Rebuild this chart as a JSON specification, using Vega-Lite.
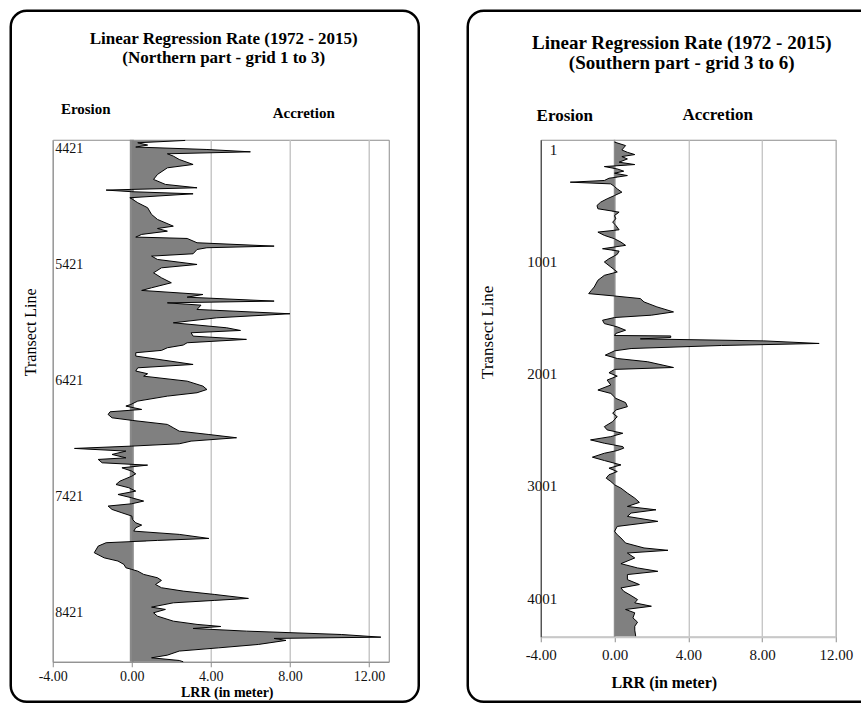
{
  "$schema": "https://vega.github.io/schema/vega-lite/v6.json",
  "background": "white",
  "padding": {"left": 8.75, "top": 8.75, "right": 0, "bottom": 0},
  "spacing": 152,
  "bounds": "flush",
  "config": {
    "view": {"stroke": "#8c8c8c", "strokeWidth": 1},
    "axis": {"labelFont": "Liberation Serif", "titleFont": "Liberation Serif", "labelColor": "#111111", "titleColor": "#000000", "labelFlush": false, "labelOverlap": false, "labelBound": false},
    "text": {"font": "Liberation Serif", "color": "#000000"}
  },
  "datasets": {
    "north": [
      {"transect": 4411, "lrr": 2.7}, {"transect": 4431, "lrr": 0.3}, {"transect": 4451, "lrr": 0.8}, {"transect": 4468, "lrr": 0.2},
      {"transect": 4489, "lrr": 3.8}, {"transect": 4509, "lrr": 6.0}, {"transect": 4526, "lrr": 1.8}, {"transect": 4546, "lrr": 2.1},
      {"transect": 4575, "lrr": 2.4}, {"transect": 4618, "lrr": 3.1}, {"transect": 4647, "lrr": 1.8}, {"transect": 4704, "lrr": 1.3},
      {"transect": 4747, "lrr": 1.1}, {"transect": 4790, "lrr": 1.7}, {"transect": 4819, "lrr": 3.3}, {"transect": 4833, "lrr": 0},
      {"transect": 4839, "lrr": -1.3}, {"transect": 4853, "lrr": 0}, {"transect": 4871, "lrr": 3.1}, {"transect": 4905, "lrr": -0.1},
      {"transect": 4920, "lrr": 0.05}, {"transect": 4948, "lrr": 0.3}, {"transect": 4991, "lrr": 0.8}, {"transect": 5049, "lrr": 1.0},
      {"transect": 5092, "lrr": 1.3}, {"transect": 5150, "lrr": 2.1}, {"transect": 5170, "lrr": 1.3}, {"transect": 5193, "lrr": 1.8},
      {"transect": 5221, "lrr": 0.5}, {"transect": 5244, "lrr": 0.2}, {"transect": 5256, "lrr": 2.8}, {"transect": 5293, "lrr": 3.3},
      {"transect": 5322, "lrr": 7.2}, {"transect": 5336, "lrr": 3.8}, {"transect": 5351, "lrr": 3.3}, {"transect": 5388, "lrr": 3.1},
      {"transect": 5408, "lrr": 1.0}, {"transect": 5437, "lrr": 1.3}, {"transect": 5480, "lrr": 3.3}, {"transect": 5509, "lrr": 1.5},
      {"transect": 5552, "lrr": 1.1}, {"transect": 5595, "lrr": 1.5}, {"transect": 5638, "lrr": 2.0}, {"transect": 5681, "lrr": 1.0},
      {"transect": 5704, "lrr": 0.5}, {"transect": 5739, "lrr": 3.6}, {"transect": 5762, "lrr": 2.8}, {"transect": 5796, "lrr": 7.2},
      {"transect": 5811, "lrr": 1.8}, {"transect": 5831, "lrr": 3.5}, {"transect": 5868, "lrr": 3.3}, {"transect": 5905, "lrr": 8.0},
      {"transect": 5940, "lrr": 4.3}, {"transect": 5983, "lrr": 2.1}, {"transect": 6026, "lrr": 4.8}, {"transect": 6049, "lrr": 5.5},
      {"transect": 6069, "lrr": 3.0}, {"transect": 6098, "lrr": 3.1}, {"transect": 6126, "lrr": 5.8}, {"transect": 6155, "lrr": 2.8},
      {"transect": 6175, "lrr": 2.6}, {"transect": 6198, "lrr": 1.8}, {"transect": 6221, "lrr": 1.5}, {"transect": 6241, "lrr": 0.2},
      {"transect": 6270, "lrr": 0.2}, {"transect": 6342, "lrr": 3.1}, {"transect": 6371, "lrr": 0.3}, {"transect": 6399, "lrr": 0.2},
      {"transect": 6422, "lrr": 0.8}, {"transect": 6443, "lrr": 0.6}, {"transect": 6486, "lrr": 2.8}, {"transect": 6529, "lrr": 3.6},
      {"transect": 6558, "lrr": 3.8}, {"transect": 6586, "lrr": 3.3}, {"transect": 6615, "lrr": 1.8}, {"transect": 6658, "lrr": 0.3},
      {"transect": 6687, "lrr": -0.05}, {"transect": 6701, "lrr": -0.3}, {"transect": 6730, "lrr": 0.5}, {"transect": 6750, "lrr": -1.1},
      {"transect": 6773, "lrr": -1.2}, {"transect": 6802, "lrr": -1.0}, {"transect": 6825, "lrr": 0.05}, {"transect": 6859, "lrr": 1.8},
      {"transect": 6888, "lrr": 2.1}, {"transect": 6917, "lrr": 2.4}, {"transect": 6946, "lrr": 3.9}, {"transect": 6974, "lrr": 5.3},
      {"transect": 7003, "lrr": 3.0}, {"transect": 7026, "lrr": 2.4}, {"transect": 7046, "lrr": 0}, {"transect": 7066, "lrr": -2.9},
      {"transect": 7089, "lrr": -0.3}, {"transect": 7118, "lrr": -1.0}, {"transect": 7147, "lrr": -0.3}, {"transect": 7161, "lrr": -1.7},
      {"transect": 7190, "lrr": -1.5}, {"transect": 7210, "lrr": 0.8}, {"transect": 7233, "lrr": -0.5}, {"transect": 7262, "lrr": 0},
      {"transect": 7285, "lrr": 0.2}, {"transect": 7305, "lrr": 0}, {"transect": 7348, "lrr": -0.6}, {"transect": 7377, "lrr": -0.8},
      {"transect": 7405, "lrr": -0.15}, {"transect": 7434, "lrr": 0.2}, {"transect": 7463, "lrr": -0.7}, {"transect": 7492, "lrr": 0},
      {"transect": 7520, "lrr": 0.6}, {"transect": 7543, "lrr": 0}, {"transect": 7563, "lrr": -1.2}, {"transect": 7592, "lrr": -1.0},
      {"transect": 7621, "lrr": -0.5}, {"transect": 7649, "lrr": 0}, {"transect": 7678, "lrr": 0.03}, {"transect": 7707, "lrr": 0.2},
      {"transect": 7727, "lrr": 0.5}, {"transect": 7750, "lrr": 0.2}, {"transect": 7779, "lrr": 0.1}, {"transect": 7807, "lrr": 2.4},
      {"transect": 7842, "lrr": 3.9}, {"transect": 7859, "lrr": 1.3}, {"transect": 7879, "lrr": -1.3}, {"transect": 7908, "lrr": -1.7},
      {"transect": 7965, "lrr": -1.9}, {"transect": 8009, "lrr": -1.4}, {"transect": 8037, "lrr": -0.7}, {"transect": 8066, "lrr": -0.4},
      {"transect": 8095, "lrr": -0.3}, {"transect": 8109, "lrr": 0}, {"transect": 8124, "lrr": 0.3}, {"transect": 8152, "lrr": 0.6},
      {"transect": 8181, "lrr": 1.3}, {"transect": 8204, "lrr": 1.5}, {"transect": 8239, "lrr": 1.2}, {"transect": 8267, "lrr": 1.5},
      {"transect": 8296, "lrr": 2.6}, {"transect": 8325, "lrr": 4.2}, {"transect": 8359, "lrr": 5.9}, {"transect": 8376, "lrr": 4.2},
      {"transect": 8397, "lrr": 2.1}, {"transect": 8434, "lrr": 1.0}, {"transect": 8454, "lrr": 1.7}, {"transect": 8483, "lrr": 1.1},
      {"transect": 8512, "lrr": 1.3}, {"transect": 8555, "lrr": 2.1}, {"transect": 8583, "lrr": 3.3}, {"transect": 8601, "lrr": 4.5},
      {"transect": 8618, "lrr": 3.1}, {"transect": 8641, "lrr": 5.8}, {"transect": 8670, "lrr": 10.6}, {"transect": 8693, "lrr": 12.6},
      {"transect": 8704, "lrr": 7.2}, {"transect": 8721, "lrr": 7.8}, {"transect": 8756, "lrr": 6.4}, {"transect": 8785, "lrr": 4.4},
      {"transect": 8813, "lrr": 2.4}, {"transect": 8848, "lrr": 1.8}, {"transect": 8871, "lrr": 1.0}, {"transect": 8894, "lrr": 2.4},
      {"transect": 8905, "lrr": 2.6}
    ],
    "south": [
      {"transect": 1, "lrr": 0}, {"transect": 32, "lrr": 0.6}, {"transect": 71, "lrr": 0.4}, {"transect": 92, "lrr": 0.7},
      {"transect": 112, "lrr": 1.1}, {"transect": 130, "lrr": 0.4}, {"transect": 151, "lrr": 0.7}, {"transect": 180, "lrr": 0.25},
      {"transect": 201, "lrr": 1.1}, {"transect": 219, "lrr": -0.55}, {"transect": 240, "lrr": 0.15}, {"transect": 260, "lrr": 0.5},
      {"transect": 278, "lrr": 0}, {"transect": 299, "lrr": 0.7}, {"transect": 323, "lrr": -0.3}, {"transect": 343, "lrr": -0.55},
      {"transect": 358, "lrr": -2.4}, {"transect": 373, "lrr": -0.2}, {"transect": 397, "lrr": 0}, {"transect": 418, "lrr": 0.15},
      {"transect": 447, "lrr": 0.4}, {"transect": 477, "lrr": 0}, {"transect": 506, "lrr": -0.4}, {"transect": 536, "lrr": -0.75},
      {"transect": 566, "lrr": -0.95}, {"transect": 595, "lrr": -0.9}, {"transect": 625, "lrr": 0.25}, {"transect": 655, "lrr": 0},
      {"transect": 684, "lrr": 0.07}, {"transect": 714, "lrr": -0.1}, {"transect": 743, "lrr": 0.07}, {"transect": 782, "lrr": 0.25},
      {"transect": 803, "lrr": -0.9}, {"transect": 832, "lrr": -0.55}, {"transect": 862, "lrr": 0}, {"transect": 892, "lrr": 0.35},
      {"transect": 921, "lrr": 0.6}, {"transect": 951, "lrr": -0.65}, {"transect": 972, "lrr": 0.25}, {"transect": 1001, "lrr": 0.15},
      {"transect": 1040, "lrr": -0.3}, {"transect": 1069, "lrr": -0.55}, {"transect": 1114, "lrr": -0.2}, {"transect": 1158, "lrr": 0.15},
      {"transect": 1188, "lrr": -0.55}, {"transect": 1232, "lrr": -0.9}, {"transect": 1292, "lrr": -1.1}, {"transect": 1321, "lrr": -1.25},
      {"transect": 1351, "lrr": -1.4}, {"transect": 1372, "lrr": 0}, {"transect": 1395, "lrr": 1.4}, {"transect": 1425, "lrr": 1.6},
      {"transect": 1469, "lrr": 2.3}, {"transect": 1514, "lrr": 3.2}, {"transect": 1543, "lrr": 2.0}, {"transect": 1564, "lrr": 0},
      {"transect": 1588, "lrr": -0.65}, {"transect": 1618, "lrr": -0.55}, {"transect": 1647, "lrr": 0.15}, {"transect": 1677, "lrr": 0.6},
      {"transect": 1706, "lrr": 0.07}, {"transect": 1724, "lrr": 0}, {"transect": 1728, "lrr": 3.05}, {"transect": 1742, "lrr": 3.05},
      {"transect": 1754, "lrr": 1.4}, {"transect": 1772, "lrr": 8.1}, {"transect": 1795, "lrr": 11.1}, {"transect": 1813, "lrr": 5.8},
      {"transect": 1840, "lrr": 0.9}, {"transect": 1861, "lrr": 0}, {"transect": 1899, "lrr": -0.5}, {"transect": 1929, "lrr": 0.15},
      {"transect": 1958, "lrr": 1.8}, {"transect": 2009, "lrr": 3.2}, {"transect": 2026, "lrr": 0}, {"transect": 2056, "lrr": -0.3},
      {"transect": 2086, "lrr": 0.15}, {"transect": 2121, "lrr": -0.4}, {"transect": 2165, "lrr": -0.2}, {"transect": 2210, "lrr": -0.9},
      {"transect": 2240, "lrr": -0.2}, {"transect": 2284, "lrr": 0.07}, {"transect": 2322, "lrr": 0.6}, {"transect": 2358, "lrr": 0.7},
      {"transect": 2388, "lrr": 0.07}, {"transect": 2417, "lrr": -0.1}, {"transect": 2447, "lrr": 0.15}, {"transect": 2491, "lrr": -0.1},
      {"transect": 2536, "lrr": -0.55}, {"transect": 2565, "lrr": -0.4}, {"transect": 2595, "lrr": 0.45}, {"transect": 2625, "lrr": -0.2},
      {"transect": 2654, "lrr": -1.3}, {"transect": 2684, "lrr": -0.55}, {"transect": 2714, "lrr": 0.45}, {"transect": 2728, "lrr": 0.5},
      {"transect": 2749, "lrr": 0.15}, {"transect": 2773, "lrr": -0.55}, {"transect": 2808, "lrr": -1.2}, {"transect": 2838, "lrr": -0.55},
      {"transect": 2877, "lrr": 0.35}, {"transect": 2906, "lrr": -0.3}, {"transect": 2936, "lrr": 0.15}, {"transect": 2965, "lrr": -0.3},
      {"transect": 2995, "lrr": -0.45}, {"transect": 3025, "lrr": -0.2}, {"transect": 3054, "lrr": 0}, {"transect": 3084, "lrr": 0.35},
      {"transect": 3128, "lrr": 0.7}, {"transect": 3173, "lrr": 1.1}, {"transect": 3211, "lrr": 1.35}, {"transect": 3247, "lrr": 0.7},
      {"transect": 3277, "lrr": 2.25}, {"transect": 3306, "lrr": 0.9}, {"transect": 3336, "lrr": 0.7}, {"transect": 3380, "lrr": 2.35},
      {"transect": 3425, "lrr": 0.15}, {"transect": 3469, "lrr": 0}, {"transect": 3499, "lrr": 0.15}, {"transect": 3528, "lrr": 0.35},
      {"transect": 3573, "lrr": 0.6}, {"transect": 3617, "lrr": 1.6}, {"transect": 3638, "lrr": 2.9}, {"transect": 3662, "lrr": 0.7},
      {"transect": 3706, "lrr": 1.1}, {"transect": 3757, "lrr": 0.35}, {"transect": 3795, "lrr": 1.25}, {"transect": 3825, "lrr": 2.35},
      {"transect": 3854, "lrr": 0.7}, {"transect": 3899, "lrr": 0.7}, {"transect": 3943, "lrr": 1.35}, {"transect": 3973, "lrr": 0.35},
      {"transect": 4003, "lrr": 0.5}, {"transect": 4041, "lrr": 0.9}, {"transect": 4077, "lrr": 1.25}, {"transect": 4106, "lrr": 1.1},
      {"transect": 4136, "lrr": 2.0}, {"transect": 4165, "lrr": 0.6}, {"transect": 4195, "lrr": 1.1}, {"transect": 4240, "lrr": 1.0},
      {"transect": 4278, "lrr": 1.25}, {"transect": 4314, "lrr": 1.1}, {"transect": 4349, "lrr": 1.1}, {"transect": 4403, "lrr": 1.15}
    ]
  },
  "hconcat": [
    {
      "width": 336,
      "height": 522,
      "data": {"name": "north"},
      "layer": [
        {
          "data": {"values": [{}]},
          "mark": {"type": "rule", "color": "#8a8a8a", "strokeWidth": 4},
          "encoding": {"x": {"datum": 0, "type": "quantitative", "scale": {"domain": [-4, 13], "nice": false, "zero": false}}}
        },
        {
          "mark": {"type": "area", "orient": "horizontal", "color": "#808080"},
          "encoding": {
            "x": {"field": "lrr", "type": "quantitative", "scale": {"domain": [-4, 13], "nice": false, "zero": false},
              "axis": {"values": [-4, 0, 4, 8, 12], "format": ".2f", "labelExpr": "replace(datum.label, '−', '-')", "grid": true, "gridColor": "#c8c8c8", "gridWidth": 1.5,
                "tickSize": 5, "tickColor": "#8c8c8c", "domainColor": "#8c8c8c", "labelPadding": 3, "labelFontSize": 14,
                "title": "LRR (in meter)", "titleFontWeight": "bold", "titleFontSize": 14, "titleX": 174, "titleY": 31,
                "titleBaseline": "middle", "titleAlign": "center"}},
            "y": {"field": "transect", "type": "quantitative", "scale": {"domain": [4405, 8905], "nice": false, "zero": false, "reverse": true},
              "axis": {"values": [4421, 5421, 6421, 7421, 8421], "format": "d", "grid": false, "ticks": false, "tickSize": 0,
                "labelAlign": "left", "labelPadding": -2, "labelBaseline": "top", "labelFontSize": 14, "domainColor": "#8c8c8c",
                "title": "Transect Line", "titleFontWeight": "normal", "titleFontSize": 16, "titleX": -22, "titleY": 192,
                "titleBaseline": "middle", "titleAlign": "center", "titleAngle": -90}}
          }
        },
        {
          "mark": {"type": "line", "color": "#000000", "strokeWidth": 1},
          "encoding": {
            "x": {"field": "lrr", "type": "quantitative"},
            "y": {"field": "transect", "type": "quantitative"},
            "order": {"field": "transect"}
          }
        },
        {
          "data": {"values": [{}]},
          "mark": {"type": "text", "text": "Linear Regression Rate (1972 - 2015)", "fontWeight": "bold", "fontSize": 17, "align": "center", "baseline": "middle"},
          "encoding": {"x": {"datum": 4.652, "type": "quantitative"}, "y": {"datum": 3534, "type": "quantitative"}}
        },
        {
          "data": {"values": [{}]},
          "mark": {"type": "text", "text": "(Northern part - grid 1 to 3)", "fontWeight": "bold", "fontSize": 17, "align": "center", "baseline": "middle"},
          "encoding": {"x": {"datum": 4.652, "type": "quantitative"}, "y": {"datum": 3698, "type": "quantitative"}}
        },
        {
          "data": {"values": [{}]},
          "mark": {"type": "text", "text": "Erosion", "fontWeight": "bold", "fontSize": 15, "align": "center", "baseline": "middle"},
          "encoding": {"x": {"datum": -2.33, "type": "quantitative"}, "y": {"datum": 4138, "type": "quantitative"}}
        },
        {
          "data": {"values": [{}]},
          "mark": {"type": "text", "text": "Accretion", "fontWeight": "bold", "fontSize": 15, "align": "center", "baseline": "middle"},
          "encoding": {"x": {"datum": 8.70, "type": "quantitative"}, "y": {"datum": 4172, "type": "quantitative"}}
        },
        {
          "data": {"values": [{}]},
          "mark": {"type": "rect", "filled": false, "stroke": "#000000", "strokeWidth": 2.5, "cornerRadius": 16},
          "encoding": {
            "x": {"datum": -6.125, "type": "quantitative"}, "x2": {"datum": 14.518},
            "y": {"datum": 3293, "type": "quantitative"}, "y2": {"datum": 9250}
          }
        }
      ]
    },
    {
      "width": 295,
      "height": 497,
      "data": {"name": "south"},
      "layer": [
        {
          "data": {"values": [{}]},
          "mark": {"type": "rule", "color": "#9a9a9a", "strokeWidth": 1.5},
          "encoding": {"x": {"datum": 0, "type": "quantitative", "scale": {"domain": [-4, 12], "nice": false, "zero": false}}}
        },
        {
          "mark": {"type": "area", "orient": "horizontal", "color": "#808080"},
          "encoding": {
            "x": {"field": "lrr", "type": "quantitative", "scale": {"domain": [-4, 12], "nice": false, "zero": false},
              "axis": {"values": [-4, 0, 4, 8, 12], "format": ".2f", "labelExpr": "replace(datum.label, '−', '-')", "grid": true, "gridColor": "#bdbdbd", "gridWidth": 1.2,
                "tickSize": 5, "tickColor": "#8c8c8c", "domainColor": "#c8c8c8", "domainWidth": 2, "labelPadding": 6, "labelFontSize": 15,
                "title": "LRR (in meter)", "titleFontWeight": "bold", "titleFontSize": 16, "titleX": 123, "titleY": 46,
                "titleBaseline": "middle", "titleAlign": "center"}},
            "y": {"field": "transect", "type": "quantitative", "scale": {"domain": [-20, 4408], "nice": false, "zero": false, "reverse": true},
              "axis": {"values": [1, 1001, 2001, 3001, 4001], "format": "d", "grid": false, "ticks": false, "tickSize": 0,
                "labelAlign": "right", "labelPadding": -16, "labelBaseline": "top", "labelFontSize": 15, "domainColor": "#333333",
                "title": "Transect Line", "titleFontWeight": "normal", "titleFontSize": 17, "titleX": -53, "titleY": 192,
                "titleBaseline": "middle", "titleAlign": "center", "titleAngle": -90}}
          }
        },
        {
          "mark": {"type": "line", "color": "#000000", "strokeWidth": 1},
          "encoding": {
            "x": {"field": "lrr", "type": "quantitative"},
            "y": {"field": "transect", "type": "quantitative"},
            "order": {"field": "transect"}
          }
        },
        {
          "data": {"values": [{}]},
          "mark": {"type": "text", "text": "Linear Regression Rate (1972 - 2015)", "fontWeight": "bold", "fontSize": 19, "align": "center", "baseline": "middle"},
          "encoding": {"x": {"datum": 3.647, "type": "quantitative"}, "y": {"datum": -884, "type": "quantitative"}}
        },
        {
          "data": {"values": [{}]},
          "mark": {"type": "text", "text": "(Southern part - grid 3 to 6)", "fontWeight": "bold", "fontSize": 19, "align": "center", "baseline": "middle"},
          "encoding": {"x": {"datum": 3.647, "type": "quantitative"}, "y": {"datum": -706, "type": "quantitative"}}
        },
        {
          "data": {"values": [{}]},
          "mark": {"type": "text", "text": "Erosion", "fontWeight": "bold", "fontSize": 17, "align": "center", "baseline": "middle"},
          "encoding": {"x": {"datum": -2.698, "type": "quantitative"}, "y": {"datum": -234, "type": "quantitative"}}
        },
        {
          "data": {"values": [{}]},
          "mark": {"type": "text", "text": "Accretion", "fontWeight": "bold", "fontSize": 17, "align": "center", "baseline": "middle"},
          "encoding": {"x": {"datum": 5.6, "type": "quantitative"}, "y": {"datum": -243, "type": "quantitative"}}
        },
        {
          "data": {"values": [{}]},
          "mark": {"type": "rect", "filled": false, "stroke": "#000000", "strokeWidth": 2.5, "cornerRadius": 16},
          "encoding": {
            "x": {"datum": -7.959, "type": "quantitative"}, "x2": {"datum": 14.2},
            "y": {"datum": -1169, "type": "quantitative"}, "y2": {"datum": 4987}
          }
        }
      ]
    }
  ]
}
